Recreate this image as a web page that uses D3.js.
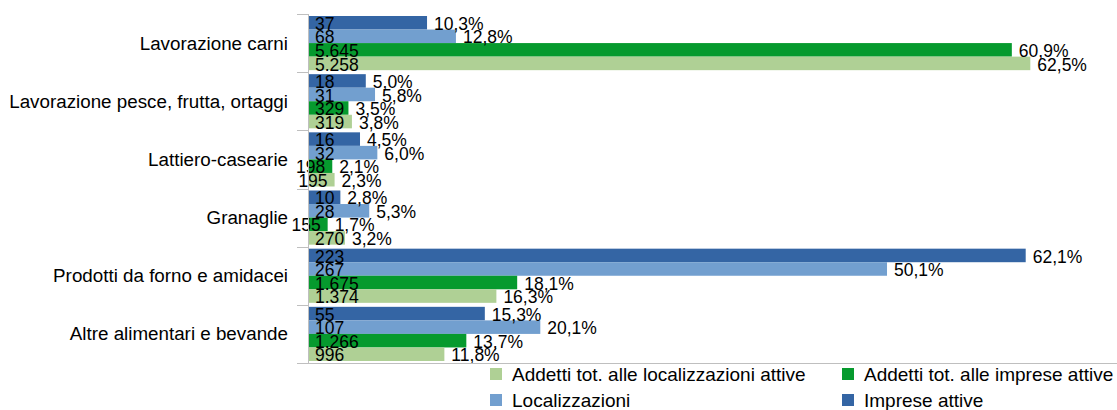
<!DOCTYPE html>
<html lang="it">
<head>
<meta charset="UTF-8">
<title>Industria alimentare</title>
<script src="https://cdn.jsdelivr.net/npm/d3@7"></script>
<style>
  body { margin: 0; background: #fff; }
  svg { display: block; font-family: "Liberation Sans", Arial, sans-serif; }
  .lbl { font-size: 17.5px; fill: #000; }
  .cat { font-size: 18.8px; fill: #000; }
  .leg { font-size: 19px; fill: #000; }
</style>
</head>
<body>
<div id="chart"></div>
<script>
// categorie (dall'alto in basso)
var categories = [
    "Lavorazione carni",
    "Lavorazione pesce, frutta, ortaggi",
    "Lattiero-casearie",
    "Granaglie",
    "Prodotti da forno e amidacei",
    "Altre alimentari e bevande"
];

// serie, nell'ordine in cui le barre compaiono dentro ogni gruppo
var seriesNames = ["Imprese attive", "Localizzazioni", "Addetti tot. alle imprese attive", "Addetti tot. alle localizzazioni attive"];
var seriesColors = ["#3465a4", "#729fcf", "#069a2e", "#afd095"];

// valori assoluti (etichetta alla base della barra)
var impreseCount = [37, 18, 16, 10, 223, 55];
var localizzCount = [68, 31, 32, 28, 267, 107];
var addImpreseCount = [5645, 329, 198, 155, 1675, 1266];
var addLocalizzCount = [5258, 319, 195, 270, 1374, 996];

// quote percentuali (lunghezza della barra)
var imprese = [10.3, 5.0, 4.5, 2.8, 62.1, 15.3];
var localizz = [12.8, 5.8, 6.0, 5.3, 50.1, 20.1];
var addImprese = [60.9, 3.5, 2.1, 1.7, 18.1, 13.7];
var addLocalizz = [62.5, 3.8, 2.3, 3.2, 16.3, 11.8];

var counts = [impreseCount, localizzCount, addImpreseCount, addLocalizzCount];
var pcts = [imprese, localizz, addImprese, addLocalizz];

// legenda: ordine come nell'originale (due righe, due colonne)
var legendOrder = [3, 2, 1, 0];

var width = 1117, height = 410;
var it = d3.formatLocale({decimal: ",", thousands: ".", grouping: [3], currency: ["", "€"]});
var fmtInt = it.format(",d");
var fmtPct = it.format(".1f");

var svg = d3.select("#chart").append("svg")
    .attr("width", width)
    .attr("height", height);

var x = d3.scaleLinear().domain([0, 70]).range([308, 1117]);
var y = d3.scaleBand().domain(categories).range([14, 363]).paddingInner(0).paddingOuter(0);
var ySub = d3.scaleBand().domain(d3.range(4))
    .range([2, y.bandwidth() - 2]).paddingInner(0);

// barre
var groups = svg.append("g").selectAll("g")
    .data(categories)
    .join("g")
    .attr("transform", function(d) { return "translate(0," + y(d) + ")"; });

groups.each(function(cat, ci) {
    var g = d3.select(this);
    for (var s = 0; s < 4; s++) {
        var v = pcts[s][ci];
        g.append("rect")
            .attr("x", x(0))
            .attr("y", ySub(s))
            .attr("width", x(v) - x(0))
            .attr("height", ySub.bandwidth())
            .attr("fill", seriesColors[s]);
    }
});

// assi
var axisColor = "#bfbfbf";
svg.append("line")
    .attr("x1", x(0) + 0.5).attr("x2", x(0) + 0.5)
    .attr("y1", 14).attr("y2", 364)
    .attr("stroke", axisColor);
svg.append("line")
    .attr("x1", 297).attr("x2", width)
    .attr("y1", 363.5).attr("y2", 363.5)
    .attr("stroke", axisColor);
var ticks = categories.map(function(d) { return y(d); });
svg.append("g").selectAll("line")
    .data(ticks)
    .join("line")
    .attr("x1", 297).attr("x2", x(0))
    .attr("y1", function(d) { return Math.round(d) + 0.5; })
    .attr("y2", function(d) { return Math.round(d) + 0.5; })
    .attr("stroke", axisColor);

// etichette categorie
svg.append("g").selectAll("text")
    .data(categories)
    .join("text")
    .attr("class", "cat")
    .attr("x", 288)
    .attr("y", function(d) { return y(d) + y.bandwidth() / 2; })
    .attr("dy", "0.35em")
    .attr("text-anchor", "end")
    .text(function(d) { return d; });

// etichette valori
groups.each(function(cat, ci) {
    var g = d3.select(this);
    for (var s = 0; s < 4; s++) {
        var v = pcts[s][ci];
        var cy = ySub(s) + ySub.bandwidth() / 2 + 1;
        var barW = x(v) - x(0);
        var t = g.append("text")
            .attr("class", "lbl")
            .attr("y", cy)
            .attr("dy", "0.35em")
            .text(fmtInt(counts[s][ci]));
        var tw = t.node().getComputedTextLength();
        if (tw + 7 > barW) {
            t.attr("x", x(v) - 7).attr("text-anchor", "end");
        } else {
            t.attr("x", x(0) + 7);
        }
        g.append("text")
            .attr("class", "lbl")
            .attr("x", x(v) + 7)
            .attr("y", cy)
            .attr("dy", "0.35em")
            .text(fmtPct(v) + "%");
    }
});

// legenda
var legX = [490, 842], legY = [374, 400];
var leg = svg.append("g").selectAll("g")
    .data(legendOrder)
    .join("g")
    .attr("transform", function(d, i) {
        return "translate(" + legX[i % 2] + "," + legY[Math.floor(i / 2)] + ")";
    });
leg.append("rect")
    .attr("x", 0).attr("y", -6)
    .attr("width", 12).attr("height", 12)
    .attr("fill", function(d) { return seriesColors[d]; });
leg.append("text")
    .attr("class", "leg")
    .attr("x", 22)
    .attr("y", 0)
    .attr("dy", "0.35em")
    .text(function(d) { return seriesNames[d]; });
</script>
</body>
</html>
